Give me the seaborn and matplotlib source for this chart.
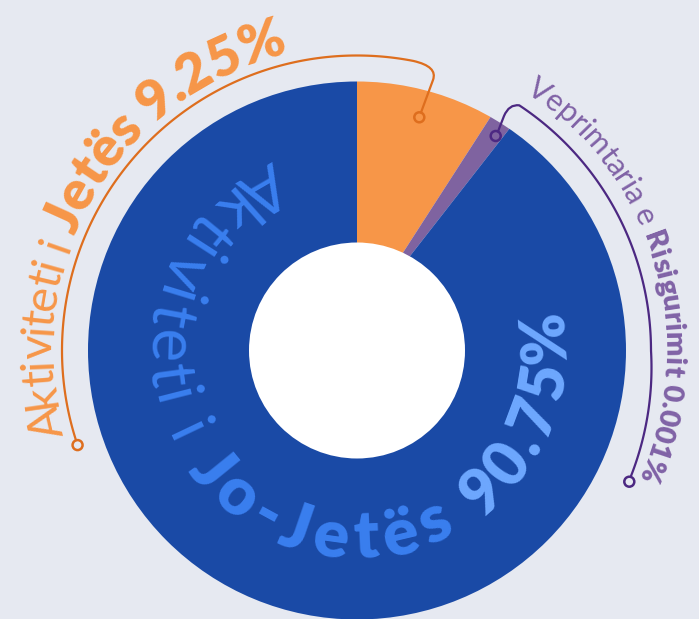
import numpy as np
import matplotlib
matplotlib.use("Agg")
import matplotlib.pyplot as plt
import seaborn as sns
from matplotlib.patches import Circle, PathPatch
from matplotlib.path import Path
from matplotlib.font_manager import FontProperties, findfont, get_font
try:
    from matplotlib.ft2font import LoadFlags
    NOHINT = LoadFlags.NO_HINTING
except Exception:  # older matplotlib
    from matplotlib.ft2font import LOAD_NO_HINTING as NOHINT

# ---------------- data ----------------
categories = ["Aktiviteti i Jetës", "Veprimtaria e Risigurimit", "Aktiviteti i Jo-Jetës"]
shares = [9.25, 0.001, 90.75]
share_labels = ["9.25%", "0.001%", "90.75%"]
colors = ["#F79648", "#7F63A0", "#1A4AA6"]

# ---------------- style ----------------
W, H = 699, 619
BG = "#E6E9F1"
sns.set_theme(style="white", rc={"figure.facecolor": BG, "axes.facecolor": BG})
FAMILY = ["Lato", "DejaVu Sans"]
plt.rcParams["font.family"] = FAMILY

fig = plt.figure(figsize=(W / 100, H / 100), dpi=100)
ax = fig.add_axes([0, 0, 1, 1])

CX, CY = 357.0, H - 350.5
R_OUT, R_IN = 269.0, 108.0
APEX_Y = H - 324.0          # wedges radiate from a point above the ring centre
MIN_VISIBLE = 1.45          # tiny share drawn with a minimum visible width

display = [max(v, MIN_VISIBLE) for v in shares]
wedges, _ = ax.pie(display, colors=colors, startangle=90, counterclock=False,
                   center=(CX, APEX_Y), radius=340, frame=True,
                   wedgeprops=dict(linewidth=0))
ring = Circle((CX, CY), R_OUT, transform=ax.transData)
for w in wedges:
    w.set_clip_on(True)
    w.set_clip_path(ring)
ax.add_patch(Circle((CX, CY), R_IN, facecolor="white", edgecolor="none", zorder=3))


# ---------------- curved text helpers ----------------
def char_adv(ch, fp, size_px):
    font = get_font(findfont(fp))
    font.set_size(size_px, 72)
    g = font.load_char(ord(ch), flags=NOHINT)
    return g.linearHoriAdvance / 65536.0


def arc_text(segments, r, direction):
    """direction=-1: clockwise, tops outward; +1: counter-clockwise, tops inward."""
    for text, color, weight, size_px, a0, a1 in segments:
        fp = FontProperties(family=FAMILY, weight=weight)
        advs = [char_adv(c, fp, size_px) for c in text]
        target = np.deg2rad(abs(a1 - a0)) * r
        track = (target - sum(advs)) / len(text)
        s = 0.0
        for c, a in zip(text, advs):
            mid = s + (a + track) / 2.0
            s += a + track
            if c == " ":
                continue
            th = a0 + direction * np.rad2deg(mid / r)
            rot = th - 90 if direction < 0 else th + 90
            t = np.deg2rad(th)
            ax.text(CX + r * np.cos(t), CY + r * np.sin(t), c, color=color,
                    fontsize=size_px * 0.72, fontweight=weight, family=FAMILY,
                    rotation=rot, rotation_mode="anchor", ha="center",
                    va="baseline", zorder=5)


def name_parts(cat):
    head, tail = cat.rsplit(" ", 1)
    return head + " ", tail


# outer label for the orange slice
o_head, o_tail = name_parts(categories[0])
arc_text([(o_head, colors[0], "normal", 47, 195.9, 157.9),
          (o_tail + " " + share_labels[0], colors[0], "heavy", 55, 157.9, 103.0)],
         r=305, direction=-1)

# outer label for the purple slice
p_head, p_tail = name_parts(categories[1])
PURPLE_TXT = "#8062A6"
arc_text([(p_head, PURPLE_TXT, "normal", 31, 56.9, 22.0),
          (p_tail + " " + share_labels[1], PURPLE_TXT, "heavy", 29, 22.0, -24.5)],
         r=308, direction=-1)

# label inside the blue ring
b_head, b_tail = name_parts(categories[2])
arc_text([(b_head, "#3A7FEF", "normal", 64, 113.5, 214.0),
          (b_tail + " ", "#3A7FEF", "heavy", 66, 214.0, 306.0),
          (share_labels[2], "#6EA8FF", "heavy", 62, 306.0, 372.0)],
         r=208, direction=+1)


# ---------------- leader lines ----------------
def img(x, y):
    return (x, H - y)


def polar(r, deg):
    t = np.deg2rad(deg)
    return (CX + r * np.cos(t), CY + r * np.sin(t))


def draw_path(pts_codes, color):
    verts = [p for p, _ in pts_codes]
    codes = [c for _, c in pts_codes]
    ax.add_patch(PathPatch(Path(verts, codes), facecolor="none", edgecolor=color,
                           lw=1.6, zorder=6, capstyle="round", joinstyle="round"))


def marker(p, color):
    ax.add_patch(Circle(p, 5.0, facecolor="none", edgecolor=color, lw=1.8, zorder=7))


ORANGE_LINE = "#DE6E1E"
PURPLE_LINE = "#4C2882"

# orange leader: arc r=295 from the lower-left end up to a rounded corner, down into the slice
seq = []
angs = np.linspace(197.7, 79.0, 160)
for i, a in enumerate(angs):
    seq.append((polar(295, a), Path.MOVETO if i == 0 else Path.LINETO))
seq.append((img(438.0, 66.5), Path.CURVE3))
seq.append((img(433.0, 80.0), Path.CURVE3))
seq.append((img(421.0, 112.5), Path.LINETO))
draw_path(seq, ORANGE_LINE)
marker(polar(295, 198.7), ORANGE_LINE)
marker(img(419.3, 117.3), ORANGE_LINE)

# purple leader: from the slice up to a corner, then along the arc down the right side
seq = [(img(498.0, 131.5), Path.MOVETO), (img(504.0, 116.0), Path.LINETO),
       (img(509.0, 104.0), Path.CURVE3)]
angs = np.linspace(56.5, -24.6, 160)
for i, a in enumerate(angs):
    r = 294.0 + (max(0.0, -a) * 0.3 if a < 0 else 0.0)
    seq.append((polar(r, a), Path.CURVE3 if i == 0 else Path.LINETO))
draw_path(seq, PURPLE_LINE)
marker(img(495.7, 136.0), PURPLE_LINE)
marker(img(629.3, 481.7), PURPLE_LINE)

ax.set_xlim(0, W)
ax.set_ylim(0, H)
ax.set_aspect("equal")
ax.axis("off")
fig.savefig("out.png", dpi=100, facecolor=BG)
